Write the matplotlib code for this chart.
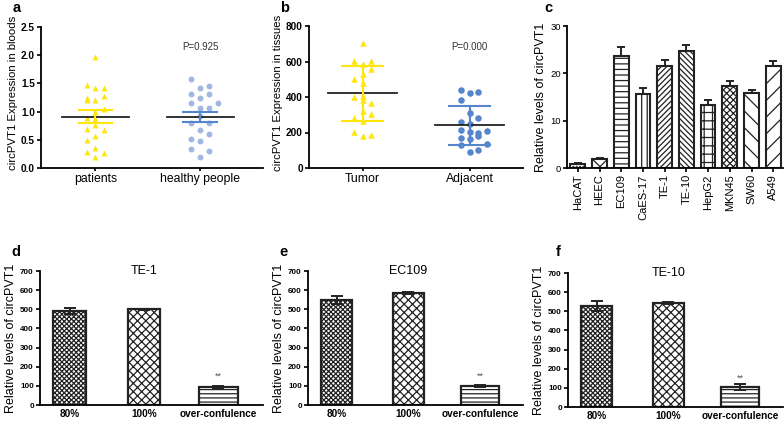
import numpy as np
import matplotlib
matplotlib.use("Agg")
import matplotlib.pyplot as plt

plt.rcParams['font.family'] = ['Liberation Sans', 'DejaVu Sans']
plt.rcParams['hatch.linewidth'] = 0.9

# panel a: blood expression (value, column offset index)
patients_vals = [1.47, 1.24, 1.20, 0.89, 0.69, 0.50, 0.28,
                 1.96, 1.42, 1.21, 1.00, 0.87, 0.77, 0.57, 0.36, 0.20,
                 1.42, 1.28, 1.04, 0.68, 0.26]
patients_cols = [-1] * 7 + [0] * 9 + [1] * 5
healthy_vals = [1.57, 1.31, 1.15, 0.79, 0.51, 0.33,
                1.42, 1.25, 1.06, 0.92, 0.67, 0.47, 0.20,
                1.45, 1.32, 1.06, 0.79, 0.60, 0.30,
                1.16]
healthy_cols = [-1] * 6 + [0] * 7 + [1] * 6 + [2]
blood_groups = ['patients', 'healthy people']
blood_mean = [0.91, 0.905]
blood_sem = [0.115, 0.095]

# panel b: tissue expression
tumor_vals = [603, 500, 402, 284, 201,
              702, 585, 528, 477, 406, 383, 321, 265, 180,
              603, 556, 365, 302, 186]
tumor_cols = [-1] * 5 + [0] * 9 + [1] * 5
adj_vals = [439, 383, 257, 214, 167, 130,
            421, 308, 250, 205, 165, 92,
            426, 280, 198, 180, 101,
            210, 135]
adj_cols = [-1] * 6 + [0] * 6 + [1] * 5 + [2] * 2
tissue_groups = ['Tumor', 'Adjacent']
tissue_mean = [420, 240]
tissue_sd = [157, 110]

# panel c: cell lines
cell_lines = ['HaCAT', 'HEEC', 'EC109', 'CaES-17', 'TE-1', 'TE-10', 'HepG2', 'MKN45', 'SW60', 'A549']
cell_vals = [0.8, 2.0, 23.6, 15.7, 21.5, 24.7, 13.4, 17.4, 15.8, 21.6]
cell_err = [0.2, 0.2, 1.9, 1.2, 1.4, 1.3, 1.0, 0.9, 0.7, 1.1]
cell_hatch = ['.....', 'xx', '---', '|||', '//////', '\\\\\\\\\\\\', '++', 'xxxxx', '\\\\', '//']

# panels d-f: confluence
conf_labels = ['80%', '100%', 'over-confulence']
conf_titles = ['TE-1', 'EC109', 'TE-10']
conf_vals = [[491, 499, 92], [549, 584, 97], [527, 544, 104]]
conf_err = [[16, 5, 5], [22, 4, 5], [28, 5, 14]]
conf_hatch = ['xxxxxxx', 'xxxx', '----']

yellow = '#FFE60A'
light_blue = '#A2B6E2'
blue = '#5585CA'

W, H = 784, 422
fig = plt.figure(figsize=(W / 100, H / 100), dpi=100)


def add_ax(left, right, top, bottom):
    ax = fig.add_axes([left / W, 1 - bottom / H, (right - left) / W, (bottom - top) / H])
    ax.spines['top'].set_visible(False)
    ax.spines['right'].set_visible(False)
    ax.spines['left'].set_linewidth(1.3)
    ax.spines['bottom'].set_linewidth(1.3)
    ax.tick_params(width=1.2, length=3, pad=1.5)
    return ax


def bold_ticks(ax, size=7.2):
    for t in ax.get_yticklabels():
        t.set_fontweight('bold')
        t.set_fontsize(size)


def dot_panel(ax, groups, data, cols, markers, colors, line_colors, mean, err, step, caps, size):
    for i in range(2):
        xs = i + np.array(cols[i]) * step
        ax.scatter(xs, data[i], marker=markers[i], s=size, color=colors[i], linewidths=0, zorder=2)
        ax.plot([i - 0.32, i + 0.32], [mean[i], mean[i]], color='#222222', lw=1.3, zorder=3)
        ax.plot([i - caps, i + caps], [mean[i] + err[i]] * 2, color=line_colors[i], lw=1.5, zorder=3)
        ax.plot([i - caps, i + caps], [mean[i] - err[i]] * 2, color=line_colors[i], lw=1.5, zorder=3)
        ax.plot([i, i], [mean[i] - err[i], mean[i] + err[i]], color=line_colors[i], lw=1.5, zorder=3)
    ax.set_xticks([0, 1])
    ax.set_xticklabels(groups, fontsize=8.8)
    ax.tick_params(axis='x', length=2)


# a
ax = add_ax(41, 263, 27, 168)
dot_panel(ax, blood_groups, [patients_vals, healthy_vals], [patients_cols, healthy_cols],
          ['^', 'o'], [yellow, light_blue], [yellow, blue], blood_mean, blood_sem, 0.083, 0.16, 18)
ax.set_xlim(-0.52, 1.6)
ax.set_ylim(0, 2.5)
ax.set_yticks([0, 0.5, 1.0, 1.5, 2.0, 2.5])
ax.set_yticklabels(['0.0', '0.5', '1.0', '1.5', '2.0', '2.5'])
bold_ticks(ax)
ax.set_ylabel('circPVT1 Expression in bloods', fontsize=8.2, labelpad=2, y=0.53)
ax.text(1.0, 2.14, 'P=0.925', fontsize=7, color='#333333', ha='center', va='center')

# b
ax = add_ax(309, 523, 26, 168)
dot_panel(ax, tissue_groups, [tumor_vals, adj_vals], [tumor_cols, adj_cols],
          ['^', 'o'], [yellow, blue], [yellow, blue], tissue_mean, tissue_sd, 0.082, 0.19, 22)
ax.set_xlim(-0.5, 1.5)
ax.set_ylim(0, 800)
ax.set_yticks([0, 200, 400, 600, 800])
bold_ticks(ax)
ax.set_ylabel('circPVT1 Expression in tissues', fontsize=8.2, labelpad=2, y=0.53)
ax.text(1.0, 680, 'P=0.000', fontsize=7, color='#333333', ha='center', va='center')

# c
ax = add_ax(567, 783, 26, 168)
x = np.arange(len(cell_lines))
bars = ax.bar(x, cell_vals, width=0.68, color='white', edgecolor='#222222', linewidth=1.5, zorder=2)
for b, h in zip(bars, cell_hatch):
    b.set_hatch(h)
ax.errorbar(x, cell_vals, yerr=[np.zeros(len(cell_err)), cell_err], fmt='none',
            ecolor='#222222', elinewidth=1.4, capsize=3, capthick=1.4, zorder=1)
ax.set_xlim(-0.5, 9.45)
ax.set_ylim(0, 30)
ax.set_yticks([0, 10, 20, 30])
ax.tick_params(axis='y', labelsize=6.8)
ax.set_xticks(x)
ax.set_xticklabels(cell_lines, rotation=90, fontsize=8)
ax.set_ylabel('Relative levels of circPVT1', fontsize=9, labelpad=2)

# d, e, f
boxes = [(40, 263, 271, 405), (308, 523, 271, 405), (568, 783, 273, 407)]
for k in range(3):
    ax = add_ax(*boxes[k])
    xk = np.arange(3)
    bars = ax.bar(xk, conf_vals[k], width=[0.44, 0.44, 0.52], color='white',
                  edgecolor='#222222', linewidth=1.6, zorder=2)
    for b, h in zip(bars, conf_hatch):
        b.set_hatch(h)
    ax.errorbar(xk, conf_vals[k], yerr=conf_err[k], fmt='none', ecolor='#222222',
                elinewidth=1.4, capsize=4, capthick=1.4, zorder=3)
    ax.set_xlim(-0.4, 2.6)
    ax.set_ylim(0, 700)
    ax.set_yticks(range(0, 701, 100))
    bold_ticks(ax, 5.8)
    ax.set_xticks(xk)
    ax.set_xticklabels(conf_labels, fontsize=7.2, fontweight='bold')
    ax.tick_params(axis='x', length=0, pad=3)
    ax.set_ylabel('Relative levels of circPVT1', fontsize=9, labelpad=2, y=0.5)
    ax.text(1, 700, conf_titles[k], fontsize=9, ha='center', va='center')
    ax.text(2, 152, '**', fontsize=6.5, color='#555555', ha='center', va='center')

for lab, px, py in [('a', 17, 8), ('b', 285, 8), ('c', 548, 8), ('d', 16, 252), ('e', 284, 252), ('f', 558, 252)]:
    fig.text(px / W, 1 - py / H, lab, fontsize=10.5, fontweight='bold', ha='center', va='center')

fig.savefig('out.png', dpi=100)
